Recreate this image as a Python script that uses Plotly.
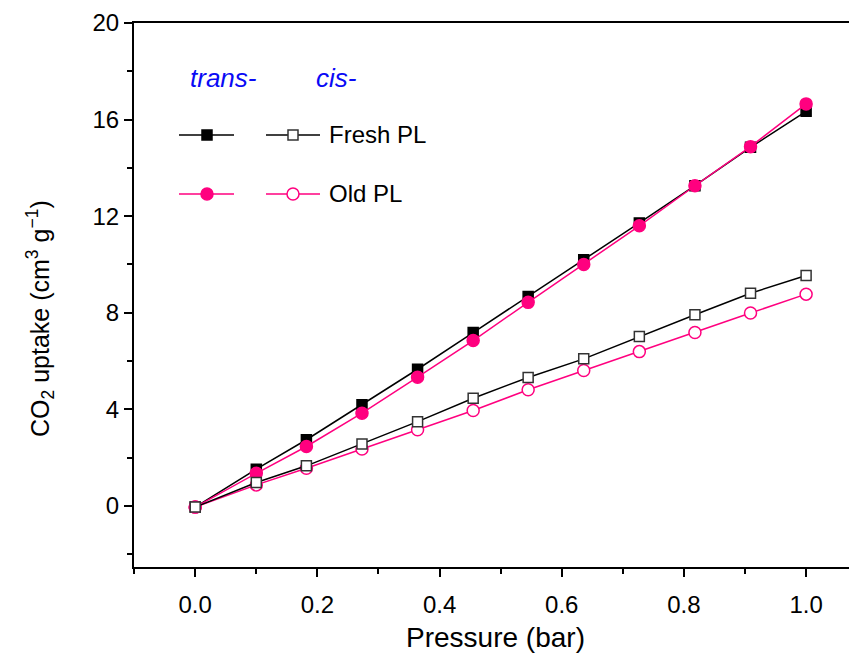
import plotly.graph_objects as go

# ---- data ----
pressure = [0.0, 0.1, 0.182, 0.273, 0.364, 0.455, 0.545, 0.636, 0.727, 0.818, 0.909, 1.0]
trans_fresh = [-0.05, 1.52, 2.74, 4.19, 5.66, 7.18, 8.67, 10.19, 11.72, 13.26, 14.85, 16.34]
trans_old = [-0.05, 1.35, 2.46, 3.84, 5.33, 6.85, 8.43, 10.00, 11.60, 13.26, 14.88, 16.65]
cis_fresh = [-0.05, 0.97, 1.66, 2.56, 3.49, 4.46, 5.32, 6.09, 7.02, 7.92, 8.81, 9.54]
cis_old = [-0.05, 0.87, 1.56, 2.36, 3.15, 3.95, 4.81, 5.61, 6.39, 7.18, 7.99, 8.77]

series_names = ["Fresh PL", "Old PL"]
column_titles = ["trans-", "cis-"]
x_ticks = [0.0, 0.2, 0.4, 0.6, 0.8, 1.0]
y_ticks = [0, 4, 8, 12, 16, 20]

# ---- styles ----
BLACK = "#000000"
PINK = "#FF007F"
BLUE = "#0A0AF5"
FONT = "Liberation Sans, Arial, sans-serif"
LW = 1.5

# plot area in screen pixels (page is offset by 8px body margin)
PX_L, PX_R, PX_T, PX_B = 134, 857, 23, 567

fig = go.Figure()

def outline(color, filled):
    if filled:
        return color
    return "#333333" if color == BLACK else color

def add_series(y, color, symbol, filled, size):
    fig.add_trace(go.Scatter(
        x=pressure, y=y, mode="lines+markers",
        line=dict(color=color, width=LW),
        marker=dict(symbol=symbol, size=size,
                    color=color if filled else "white",
                    line=dict(color=outline(color, filled), width=1.5)),
        showlegend=False, cliponaxis=False))

add_series(trans_fresh, BLACK, "square", True, 10)
add_series(trans_old, PINK, "circle", True, 12)
add_series(cis_old, PINK, "circle", False, 12)
add_series(cis_fresh, BLACK, "square", False, 10)

# ---- custom two-column legend (drawn on a hidden pixel-space overlay axis) ----
leg_cols = [(179, 207, 234), (266, 293, 320)]   # line start, marker, line end
leg_rows = [135, 194]
leg_styles = [
    [(BLACK, "square", True, 10), (BLACK, "square", False, 10)],
    [(PINK, "circle", True, 12), (PINK, "circle", False, 12)],
]
for r, yy in enumerate(leg_rows):
    for c, (x0, xm, x1) in enumerate(leg_cols):
        color, symbol, filled, size = leg_styles[r][c]
        fig.add_trace(go.Scatter(x=[x0, x1], y=[yy, yy], mode="lines",
                                 line=dict(color=color, width=LW),
                                 xaxis="x2", yaxis="y2", showlegend=False, hoverinfo="skip"))
        fig.add_trace(go.Scatter(x=[xm], y=[yy], mode="markers",
                                 marker=dict(symbol=symbol, size=size,
                                             color=color if filled else "white",
                                             line=dict(color=outline(color, filled), width=1.5)),
                                 xaxis="x2", yaxis="y2", showlegend=False, hoverinfo="skip"))
    fig.add_annotation(x=327, y=yy - 1, xref="x2", yref="y2", text=series_names[r],
                       showarrow=False, xanchor="left", yanchor="middle",
                       font=dict(family=FONT, size=24, color="black"))

for c, xx in enumerate([188, 314]):
    fig.add_annotation(x=xx, y=78, xref="x2", yref="y2", text="<i>%s</i>" % column_titles[c],
                       showarrow=False, xanchor="left", yanchor="middle",
                       font=dict(family=FONT, size=26, color=BLUE))

# y-axis title (placed like the reference, slightly below the axis centre)
title_px_x, title_px_y = 40, 318
fig.add_annotation(x=(title_px_x - PX_L) / (PX_R - PX_L),
                   y=(PX_B - title_px_y) / (PX_B - PX_T),
                   xref="paper", yref="paper", textangle=-90,
                   text="CO<sub>2</sub> uptake (cm<sup>3</sup> g<sup>\u22121</sup>)",
                   showarrow=False, xanchor="center", yanchor="middle",
                   font=dict(family=FONT, size=25, color="black"))

axis_common = dict(showgrid=False, zeroline=False, showline=True, linecolor="black",
                   linewidth=2, ticks="outside", ticklen=8, tickwidth=1.5, tickcolor="black",
                   tickfont=dict(family=FONT, size=24, color="black"))

fig.update_layout(
    width=849, height=654,
    margin=dict(l=PX_L - 8, r=0, t=PX_T - 8, b=662 - PX_B),
    paper_bgcolor="white", plot_bgcolor="white",
    xaxis=dict(**axis_common, range=[-0.1002, 1.0833], tickvals=x_ticks, tickformat=".1f",
               mirror=True, ticklabelstandoff=7,
               minor=dict(ticks="outside", dtick=0.1, tick0=0.1, ticklen=5, tickwidth=1.5, tickcolor="black"),
               title=dict(text="Pressure (bar)", font=dict(family=FONT, size=28, color="black"), standoff=11)),
    yaxis=dict(**axis_common, range=[-2.53, 20], tickvals=y_ticks,
               minor=dict(ticks="outside", dtick=2, tick0=-2, ticklen=5, tickwidth=1.5, tickcolor="black")),
    xaxis2=dict(overlaying="x", range=[PX_L, PX_R], visible=False),
    yaxis2=dict(overlaying="y", range=[PX_B, PX_T], visible=False),
)

fig.write_html("out.html")
